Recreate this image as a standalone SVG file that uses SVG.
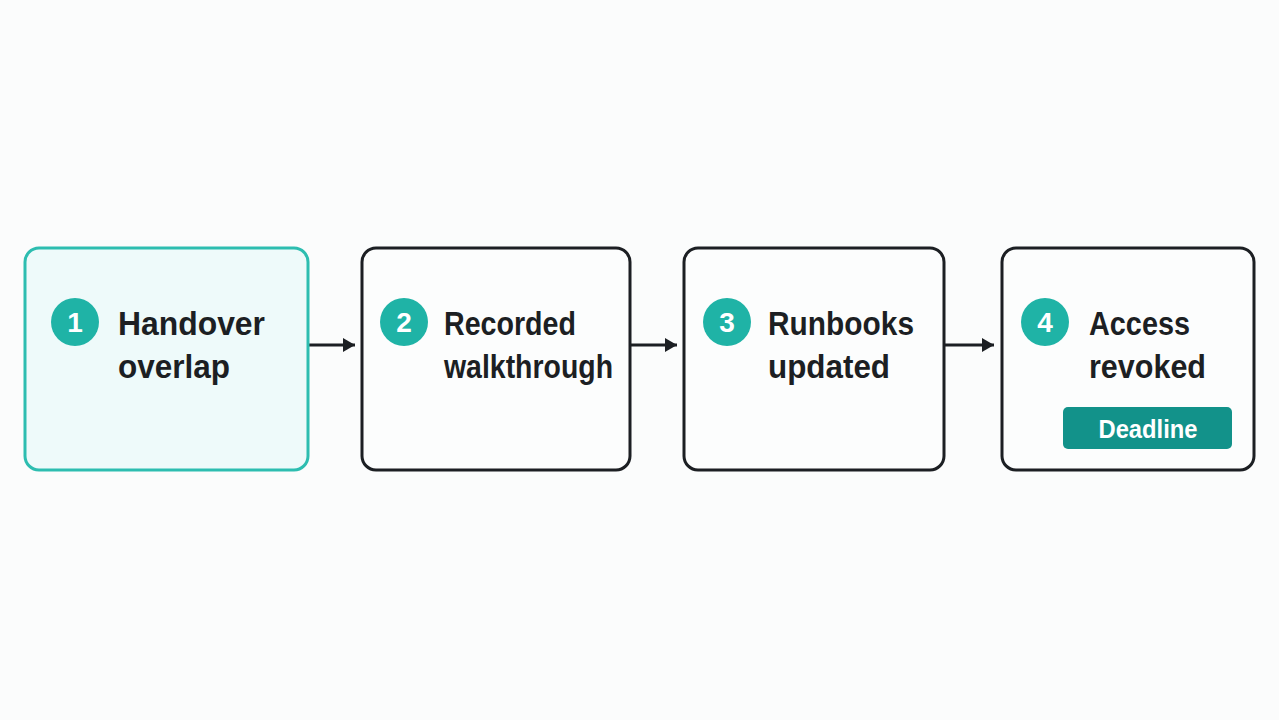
<svg xmlns="http://www.w3.org/2000/svg" width="1279" height="720" viewBox="0 0 1279 720">
<defs>
<style>
.box{fill:#fcfdfd;stroke:#1c1f23;stroke-width:3}
.box1{fill:#eefafa;stroke:#2dbdb0;stroke-width:3}
.num{fill:#1fb3a6}
.numt{fill:#ffffff;font-family:"Liberation Sans",Arial,sans-serif;font-weight:bold;font-size:28px;text-anchor:middle}
.lbl{fill:#1c1f23;font-family:"Liberation Sans",Arial,sans-serif;font-weight:bold;font-size:34px}
.conn{stroke:#1c1f23;stroke-width:3;fill:none}
</style>
<marker id="ah" markerWidth="12" markerHeight="14" refX="12" refY="7" orient="auto" markerUnits="userSpaceOnUse" viewBox="0 0 12 14">
<path d="M0,0 L12,7 L0,14 Z" fill="#1c1f23"/>
</marker>
</defs>
<rect width="1279" height="720" fill="#fbfcfc"/>
<g id="connectors">
<line class="conn" x1="309" y1="345" x2="355" y2="345" marker-end="url(#ah)"/>
<line class="conn" x1="631" y1="345" x2="677" y2="345" marker-end="url(#ah)"/>
<line class="conn" x1="945" y1="345" x2="994" y2="345" marker-end="url(#ah)"/>
</g>
<g id="node1">
<rect class="box1" x="25" y="248" width="283" height="222" rx="14"/>
<circle class="num" cx="75" cy="322" r="24"/>
<text class="numt" x="75" y="332">1</text>
<text class="lbl" x="118" y="335" textLength="147" lengthAdjust="spacingAndGlyphs">Handover</text>
<text class="lbl" x="118" y="378" textLength="112" lengthAdjust="spacingAndGlyphs">overlap</text>
</g>
<g id="node2">
<rect class="box" x="362" y="248" width="268" height="222" rx="14"/>
<circle class="num" cx="404" cy="322" r="24"/>
<text class="numt" x="404" y="332">2</text>
<text class="lbl" x="444" y="335" textLength="132" lengthAdjust="spacingAndGlyphs">Recorded</text>
<text class="lbl" x="444" y="378" textLength="169" lengthAdjust="spacingAndGlyphs">walkthrough</text>
</g>
<g id="node3">
<rect class="box" x="684" y="248" width="260" height="222" rx="14"/>
<circle class="num" cx="727" cy="322" r="24"/>
<text class="numt" x="727" y="332">3</text>
<text class="lbl" x="768" y="335" textLength="146" lengthAdjust="spacingAndGlyphs">Runbooks</text>
<text class="lbl" x="768" y="378" textLength="122" lengthAdjust="spacingAndGlyphs">updated</text>
</g>
<g id="node4">
<rect class="box" x="1002" y="248" width="252" height="222" rx="14"/>
<circle class="num" cx="1045" cy="322" r="24"/>
<text class="numt" x="1045" y="332">4</text>
<text class="lbl" x="1089" y="335" textLength="101" lengthAdjust="spacingAndGlyphs">Access</text>
<text class="lbl" x="1089" y="378" textLength="117" lengthAdjust="spacingAndGlyphs">revoked</text>
<rect x="1063" y="407" width="169" height="42" rx="5" fill="#12928a"/>
<text x="1148" y="438" fill="#ffffff" font-family="Liberation Sans, Arial, sans-serif" font-weight="bold" font-size="26" text-anchor="middle" textLength="99" lengthAdjust="spacingAndGlyphs">Deadline</text>
</g>
</svg>
